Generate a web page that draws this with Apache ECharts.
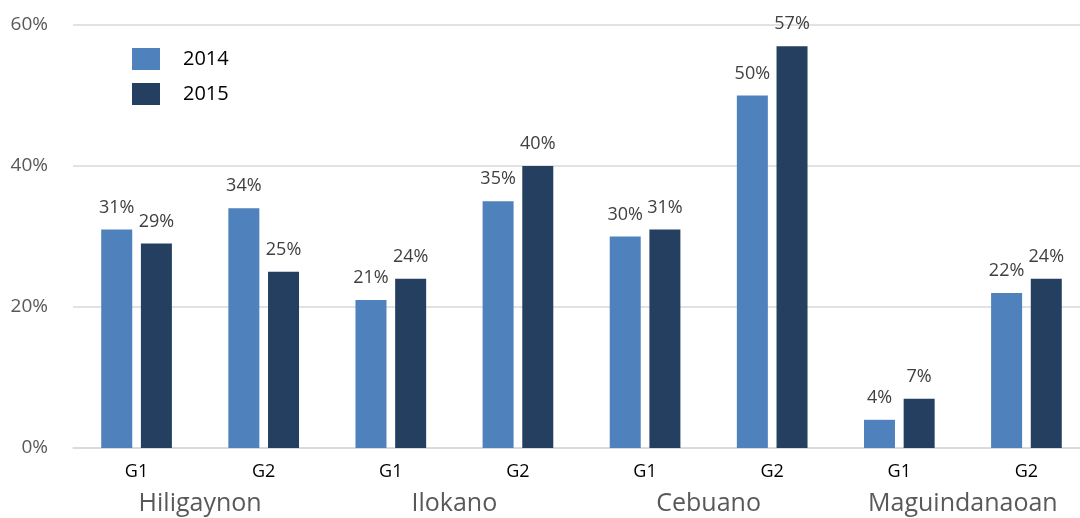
<!DOCTYPE html>
<html>
<head>
<meta charset="utf-8">
<script src="https://cdn.jsdelivr.net/npm/echarts@6/dist/echarts.min.js"></script>
<style>
html, body { margin: 0; padding: 0; background: #fff; overflow: hidden; }
#chart { width: 1090px; height: 518px; }
</style>
</head>
<body>
<div id="chart"></div>
<script>
const grades = ['G1', 'G2', 'G1', 'G2', 'G1', 'G2', 'G1', 'G2'];
const languages = ['Hiligaynon', 'Ilokano', 'Cebuano', 'Maguindanaoan'];
const values2014 = [0.31, 0.34, 0.21, 0.35, 0.30, 0.50, 0.04, 0.22];
const values2015 = [0.29, 0.25, 0.24, 0.40, 0.31, 0.57, 0.07, 0.24];
const yTicks = [0, 0.2, 0.4, 0.6];

const font = 'Open Sans';
const pct = v => Math.round(v * 100) + '%';

const myChart = echarts.init(document.getElementById('chart'));

const barLabel = {
    show: true,
    position: 'top',
    distance: 13,
    color: '#404040',
    fontFamily: font,
    fontSize: 18,
    formatter: p => pct(p.value)
};

const option = {
    backgroundColor: '#fff',
    animation: false,
    legend: {
        orient: 'vertical',
        left: 127,
        top: 43,
        itemWidth: 28,
        itemHeight: 22,
        itemGap: 13,
        icon: 'rect',
        textStyle: {
            color: '#000',
            fontFamily: font,
            fontSize: 20,
            padding: [0, 0, 0, 18]
        },
        data: ['2014', '2015']
    },
    grid: {
        left: 73,
        right: 0,
        top: 25,
        bottom: 70
    },
    xAxis: [
        {
            type: 'category',
            data: grades,
            axisLine: { show: true, lineStyle: { color: '#d9d9d9', width: 1.5 } },
            axisTick: { show: false },
            axisLabel: {
                color: '#000',
                fontFamily: font,
                fontSize: 18,
                margin: 15
            }
        },
        {
            type: 'category',
            data: languages,
            position: 'bottom',
            axisLine: { show: false },
            axisTick: { show: false },
            axisLabel: {
                color: '#595959',
                fontFamily: font,
                fontSize: 25,
                margin: 43
            }
        }
    ],
    yAxis: {
        type: 'value',
        min: yTicks[0],
        max: yTicks[yTicks.length - 1],
        interval: yTicks[1] - yTicks[0],
        axisLine: { show: false },
        axisTick: { show: false },
        axisLabel: {
            color: '#595959',
            fontFamily: font,
            fontSize: 19,
            margin: 25,
            formatter: v => pct(v)
        },
        splitLine: { lineStyle: { color: '#d9d9d9', width: 1.5 } }
    },
    series: [
        {
            name: '2014',
            type: 'bar',
            data: values2014,
            barWidth: 31,
            barGap: '28%',
            itemStyle: { color: '#4F81BD' },
            label: barLabel
        },
        {
            name: '2015',
            type: 'bar',
            data: values2015,
            barWidth: 31,
            barGap: '28%',
            itemStyle: { color: '#243F60' },
            label: barLabel
        }
    ]
};

myChart.setOption(option);
</script>
</body>
</html>
